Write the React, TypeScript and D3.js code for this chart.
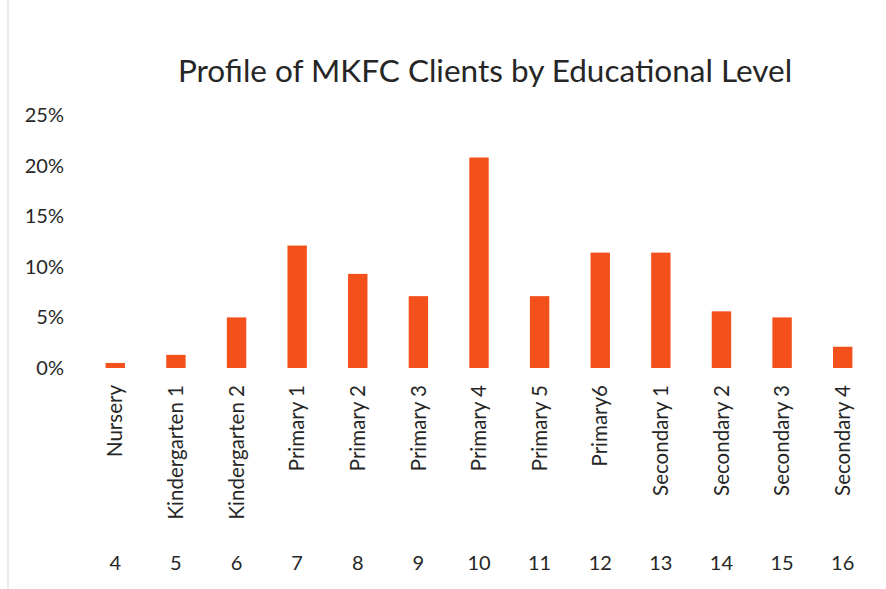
import { useRef, useEffect } from 'react'
import * as d3 from 'd3'

const levels = [
  'Nursery', 'Kindergarten 1', 'Kindergarten 2', 'Primary 1', 'Primary 2', 'Primary 3',
  'Primary 4', 'Primary 5', 'Primary6', 'Secondary 1', 'Secondary 2', 'Secondary 3', 'Secondary 4'
]
const codes = ['4', '5', '6', '7', '8', '9', '10', '11', '12', '13', '14', '15', '16']
const shares = [0.5, 1.3, 5.0, 12.1, 9.3, 7.1, 20.8, 7.1, 11.4, 11.4, 5.6, 5.0, 2.1]
const yTicks = [0, 5, 10, 15, 20, 25]

const W = 886
const H = 589
const FONT = 'Lato, "Open Sans", sans-serif'
const TEXT = '#262626'

export default function App() {
  const svgRef = useRef<SVGSVGElement>(null)

  useEffect(() => {
    const svg = d3.select(svgRef.current)
    svg.selectAll('*').remove()

    const x = d3.scaleBand<number>()
      .domain(d3.range(levels.length))
      .range([85, 873])
      .paddingInner(0.68)
      .paddingOuter(0.34)
    const y = d3.scaleLinear([0, 25], [368, 115])

    // faint scan edge
    svg.append('line')
      .attr('x1', 8).attr('x2', 8).attr('y1', 0).attr('y2', H)
      .attr('stroke', '#ececec').attr('stroke-width', 2)

    // title
    svg.append('text')
      .attr('x', 485)
      .attr('y', 82)
      .attr('text-anchor', 'middle')
      .style('font-family', FONT)
      .style('font-size', '31.5px')
      .style('fill', TEXT)
      .text('Profile of MKFC Clients by Educational Level')

    // y axis labels
    const yAxis = d3.axisLeft(y)
      .tickValues(yTicks)
      .tickSize(0)
      .tickPadding(0)
      .tickFormat(d => `${d}%`)
    const yg = svg.append('g')
      .attr('transform', 'translate(64,0)')
      .call(yAxis)
    yg.select('.domain').remove()
    yg.selectAll('text')
      .style('font-family', FONT)
      .style('font-size', '20px')
      .style('fill', TEXT)

    // bars
    svg.selectAll('.bar')
      .data(shares)
      .join('rect')
      .attr('class', 'bar')
      .attr('x', (_, i) => x(i)!)
      .attr('width', x.bandwidth())
      .attr('y', d => y(d))
      .attr('height', d => y(0) - y(d))
      .attr('fill', '#f4501c')

    // rotated category names
    svg.selectAll('.cat')
      .data(levels)
      .join('text')
      .attr('class', 'cat')
      .attr('transform', (_, i) => `translate(${x(i)! + x.bandwidth() / 2},385) rotate(-90)`)
      .attr('text-anchor', 'end')
      .attr('dy', '0.35em')
      .style('font-family', FONT)
      .style('font-size', '20.5px')
      .style('fill', TEXT)
      .text(d => d)

    // codes under the names
    svg.selectAll('.code')
      .data(codes)
      .join('text')
      .attr('class', 'code')
      .attr('x', (_, i) => x(i)! + x.bandwidth() / 2)
      .attr('y', 563)
      .attr('text-anchor', 'middle')
      .attr('dy', '0.35em')
      .style('font-family', FONT)
      .style('font-size', '20px')
      .style('fill', TEXT)
      .text(d => d)
  }, [])

  return (
    <svg
      ref={svgRef}
      width={W}
      height={H}
      style={{ position: 'absolute', left: 0, top: 0, background: '#fff' }}
    />
  )
}
